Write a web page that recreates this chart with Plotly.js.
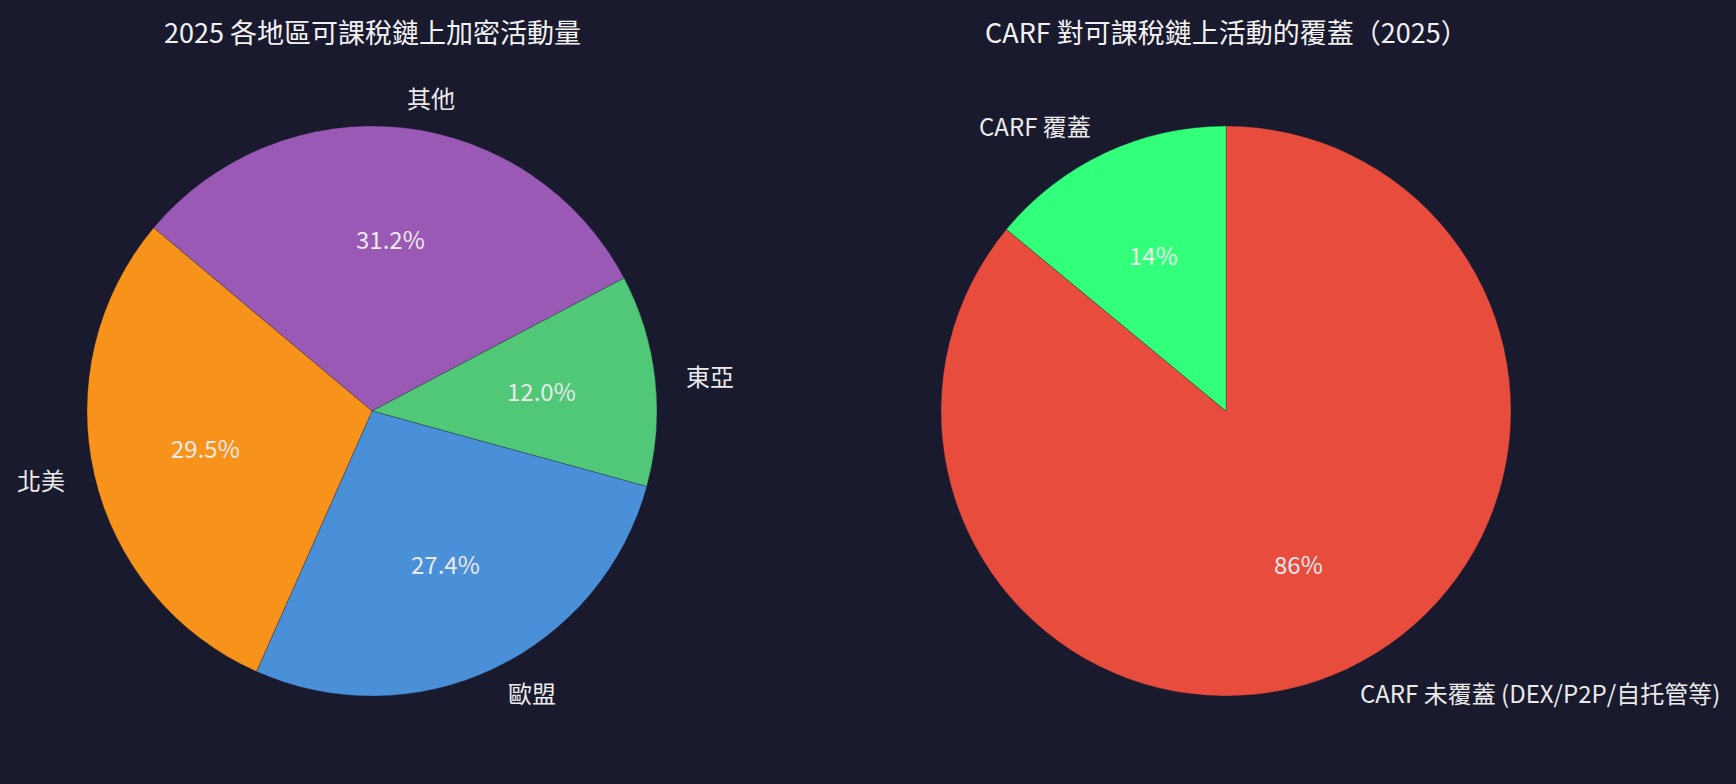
<!DOCTYPE html>
<html>
<head>
<meta charset="utf-8">
<script src="https://cdn.plot.ly/plotly-3.0.1.min.js"></script>
<style>
  body { margin: 0; background: #1a1a2e; }
  #myDiv { width: 1736px; height: 784px; }
  /* keep full-width punctuation at full width, like the source chart */
  #myDiv svg, #myDiv text, #myDiv tspan {
    text-spacing-trim: space-all !important;
    font-kerning: none !important;
    font-feature-settings: "kern" 0, "chws" 0, "halt" 0 !important;
  }
</style>
</head>
<body>
<div id="myDiv"></div>
<script>
// left pie, slices listed clockwise from the start line
var regionLabels = ['其他', '東亞', '歐盟', '北美'];
var regionValues = [31.2, 12.0, 27.4, 29.5];
var regionColors = ['#9B59B6', '#50C878', '#4A90D9', '#F7931A'];

// right pie
var carfLabels = ['CARF 未覆蓋 (DEX/P2P/自托管等)', 'CARF 覆蓋'];
var carfValues = [86, 14];
var carfColors = ['#E74C3C', '#32FF7A'];

var chartTitles = ['2025 各地區可課稅鏈上加密活動量', 'CARF 對可課稅鏈上活動的覆蓋（2025）'];

var W = 1736, H = 784;
var FONT = '"Noto Sans CJK TC", "Noto Sans CJK SC", sans-serif';
var textColor = '#EAEAEA';

// pixel geometry of the two pies
var pies = [
  { cx: 372, cy: 411, r: 285, rotation: -50, decimals: 1 },
  { cx: 1226, cy: 411, r: 285, rotation: 0, decimals: 0 }
];

function px(x) { return x / W; }
function py(y) { return 1 - y / H; }

function makeTrace(labels, values, colors, pie) {
  return {
    type: 'pie',
    labels: labels,
    values: values,
    sort: false,
    direction: 'clockwise',
    rotation: pie.rotation,
    textinfo: 'none',
    hoverinfo: 'label+percent',
    marker: { colors: colors, line: { color: '#1A1A2E', width: 0.3 } },
    domain: {
      x: [px(pie.cx - pie.r), px(pie.cx + pie.r)],
      y: [py(pie.cy + pie.r), py(pie.cy - pie.r)]
    },
    showlegend: false
  };
}

// labels at 1.1 r, percentages at 0.6 r (same as matplotlib defaults)
function sliceNotes(labels, values, pie) {
  var total = 0;
  for (var i = 0; i < values.length; i++) total += values[i];
  var notes = [];
  var angle = pie.rotation;
  var lift = 2; // annotation boxes sit a touch low
  for (var i = 0; i < values.length; i++) {
    var share = values[i] / total;
    var mid = (angle + share * 180) * Math.PI / 180;
    angle += share * 360;
    var sx = Math.sin(mid), sy = -Math.cos(mid);
    notes.push({
      x: px(pie.cx + 1.1 * pie.r * sx), y: py(pie.cy + 1.1 * pie.r * sy - lift),
      xref: 'paper', yref: 'paper',
      text: labels[i], showarrow: false,
      xanchor: sx > 0 ? 'left' : 'right', yanchor: 'middle',
      font: { family: FONT, size: 24, color: textColor }
    });
    notes.push({
      x: px(pie.cx + 0.6 * pie.r * sx), y: py(pie.cy + 0.6 * pie.r * sy - lift),
      xref: 'paper', yref: 'paper',
      text: (share * 100).toFixed(pie.decimals) + '%', showarrow: false,
      xanchor: 'center', yanchor: 'middle',
      font: { family: FONT, size: 24, color: textColor }
    });
  }
  return notes;
}

var annotations = sliceNotes(regionLabels, regionValues, pies[0])
  .concat(sliceNotes(carfLabels, carfValues, pies[1]));

for (var k = 0; k < chartTitles.length; k++) {
  annotations.push({
    x: px(pies[k].cx), y: py(31), xref: 'paper', yref: 'paper',
    text: chartTitles[k], showarrow: false,
    xanchor: 'center', yanchor: 'middle',
    font: { family: FONT, size: 27, color: '#F2F2F2' }
  });
}

var data = [
  makeTrace(regionLabels, regionValues, regionColors, pies[0]),
  makeTrace(carfLabels, carfValues, carfColors, pies[1])
];

var layout = {
  width: W,
  height: H,
  margin: { l: 0, r: 0, t: 0, b: 0 },
  paper_bgcolor: '#1A1A2E',
  plot_bgcolor: '#1A1A2E',
  font: { family: FONT, color: textColor },
  annotations: annotations
};

Plotly.newPlot('myDiv', data, layout, { displayModeBar: false, staticPlot: true });
</script>
</body>
</html>
